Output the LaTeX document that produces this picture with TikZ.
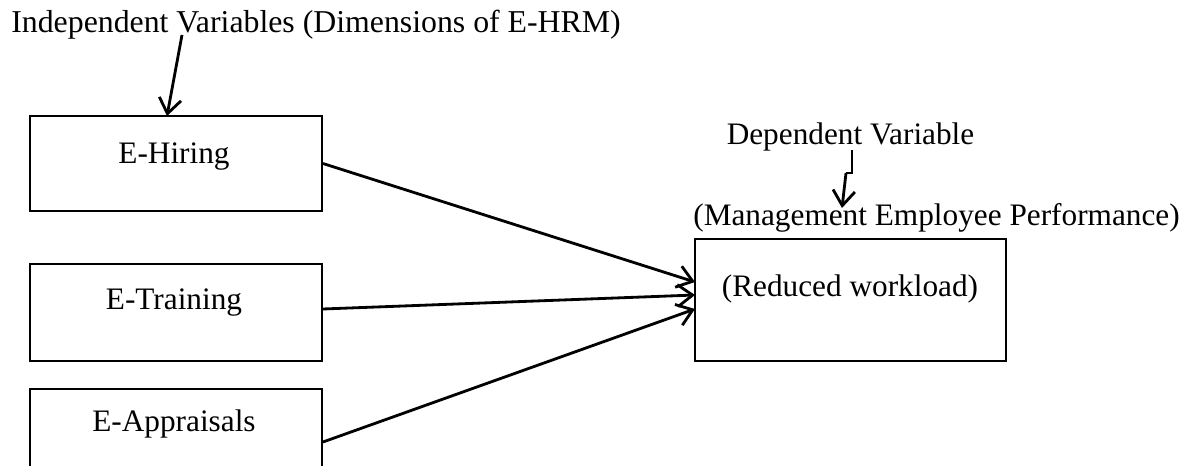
\documentclass[tikz,border=0pt]{standalone}
\usepackage{fontspec}
\setmainfont{Liberation Serif}
\usetikzlibrary{arrows.meta}

\begin{document}
\begin{tikzpicture}[x=0.02cm, y=-0.02cm, >={Straight Barb[length=3mm, width=4.4mm]}]
% --- Global Styles ---
\tikzstyle{varbox} = [draw, line width=1.1pt, minimum width=5.84cm, minimum height=1.94cm, inner sep=0pt]
\tikzstyle{boxtext} = [font=\fontsize{17.8}{20}\selectfont, inner sep=0pt, anchor=base]
\tikzstyle{headtext} = [font=\fontsize{18.1}{20}\selectfont, inner sep=0pt, anchor=base west]
\tikzstyle{arr} = [->, line width=1.6pt]

% --- Page frame ---
\clip (0,0) rectangle (1190,466);

% --- Column Coordinates ---
\def\xl{176}   % centre of left boxes
\def\xr{850.5} % centre of result box

% ==========================================
% LEFT: Dimensions of E-HRM
% ==========================================
\node[headtext] (indep) at (11,33) {Independent Variables (Dimensions of E-HRM)};

\node[varbox, minimum height=1.9cm] (hiring) at (\xl,163.5) {};
\node[boxtext] (hiringtxt) at (174,163) {E-Hiring};

\node[varbox] (training) at (\xl,312.5) {};
\node[boxtext] (trainingtxt) at (174,309) {E-Training};

\node[varbox, minimum height=2.12cm] (appraisal) at (\xl,442) {};
\node[boxtext] (appraisaltxt) at (174,431) {E-Appraisals};

% Arrow from the heading to the first box
\coordinate (indepfoot) at (182,35);
\coordinate (hiringtop) at (167,116);
\draw[arr] (indepfoot) -- (hiringtop);

% ==========================================
% RIGHT: Employee Performance
% ==========================================
\node[boxtext] (dep) at (850.5,145) {Dependent Variable};
\node[boxtext] (perf) at (936.5,225) {(Management Employee Performance)};

\node[varbox, minimum width=6.22cm, minimum height=2.44cm] (work) at (\xr,300) {};
\node[boxtext] (worktxt) at (850,296) {(Reduced workload)};

% Stepped arrow under the heading
\coordinate (depfoot) at (852,150);
\coordinate (depbend) at (852,173);
\coordinate (depjog) at (846,173);
\coordinate (perftop) at (842,208);
\draw[line width=1.6pt] (depfoot) -- (depbend) -- (depjog);
\draw[arr] (depjog) -- (perftop);

% Inputs on the left side of the result box
\coordinate (in1) at (695,282);
\coordinate (in2) at (695,295);
\coordinate (in3) at (695,309);

\draw[arr] (hiring.east) -- (in1);
\draw[arr] (training.east |- 0,309) -- (in2);
\draw[arr] (appraisal.east) -- (in3);

\end{tikzpicture}
\end{document}
